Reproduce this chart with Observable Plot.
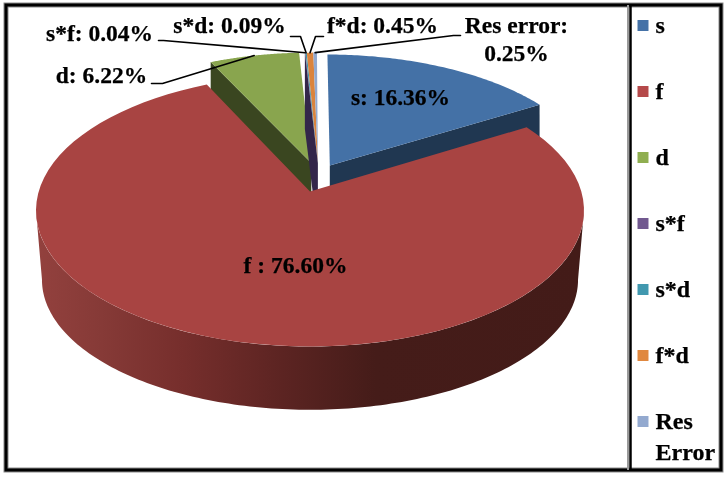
<!DOCTYPE html>
<html>
<head>
<meta charset="utf-8">
<script src="https://cdn.jsdelivr.net/npm/d3@7"></script>
<script src="https://cdn.jsdelivr.net/npm/@observablehq/plot@0.6"></script>
<style>
html,body{margin:0;padding:0;background:#fff}
svg{display:block;filter:blur(0.45px)}
</style>
</head>
<body>
<div id="chart"></div>
<script>
// ---- data
const categories = ["s","f","d","s*f","s*d","f*d","Res Error"];
const percents   = [16.36,76.60,6.22,0.04,0.09,0.45,0.25];
const sliceLabels = ["s: 16.36%","f : 76.60%","d: 6.22%","s*f: 0.04%","s*d: 0.09%","f*d: 0.45%","Res error:\n0.25%"];

// ---- styling
const topColors  = ["#4471a6","#a84442","#89a54e","#71588f","#4198af","#db843d","#93a9cf"];
const wallColors = ["#203751","#a84442","#3a4620","#33264a","#33264a","#33264a","#33264a"];
const legendColors = ["#4572a7","#b5494a","#8fae50","#71588f","#4198af","#e0883f","#93a9cf"];

// ---- layout of the 3-D view
const explodeU = [0.075,0,0.005,0.03,0.03,0.03,0.03];
const explodeV = [-0.2,0,-0.22,-0.22,-0.22,-0.22,-0.22];
const view = {cx:309.5,k:0.14,top:{A:271.3,B:133.3,y0:191},bottom:{A:265.4,B:127.5,y0:261}};
const labelX = [400,295,101,99,229,382,516];
const labelY = [97,265,75,33,25,25,25];
const leaderElbowX = [null,null,162,163,300,315,453];
const leaderElbowY = [null,null,83,40,36,36,35];
const leaderTailX  = [null,null,151,158,290,323,460];
const FONT = "'Liberation Serif','Times New Roman',serif";

function project(u,v,m){
  const w = 1-view.k*v;
  return {x:view.cx+m.A*u/w, y:m.y0+m.B*v/w};
}
const arcs = d3.pie().sort(null)(percents);
function rim(i,a,m){return project(explodeU[i]+Math.sin(a),explodeV[i]-Math.cos(a),m);}
function apex(i,m){return project(explodeU[i],explodeV[i],m);}
function arcPts(i,a0,a1,m,n=80){return d3.range(n+1).map(j=>rim(i,a0+(a1-a0)*j/n,m));}
function topFace(i){return [apex(i,view.top),...arcPts(i,arcs[i].startAngle,arcs[i].endAngle,view.top)];}
function radialWall(i,a){
  const t0=apex(i,view.top),t1=rim(i,a,view.top);
  const b0=apex(i,view.bottom),b1=rim(i,a,view.bottom);
  return [t0,t1,{x:t1.x,y:b1.y},{x:t0.x,y:b0.y}];
}
function poly(points,fill){return Plot.line(points,{x:"x",y:"y",fill,stroke:"none",strokeWidth:0,curve:"linear"});}

// Front wall of the big slice
const frontA0 = 98*Math.PI/180, frontA1 = 262*Math.PI/180;
const frontWall = [...arcPts(1,frontA0,frontA1,view.top,160),...arcPts(1,frontA1,frontA0,view.bottom,160)];

const gradient = () => {
  const defs = d3.create("svg:defs");
  const g = defs.append("linearGradient").attr("id","wallGrad")
    .attr("gradientUnits","userSpaceOnUse").attr("x1",35).attr("x2",583).attr("y1",0).attr("y2",0);
  [[0,"#93413e"],[0.12,"#863a37"],[0.27,"#762e2c"],[0.45,"#5c2422"],[0.62,"#451c19"],[1,"#431b18"]]
    .forEach(([o,c])=>g.append("stop").attr("offset",o).attr("stop-color",c));
  return defs.node();
};

const legend = categories.map((c,i)=>({c,i,y:25+66*i}));
const labels = sliceLabels.flatMap((t,i)=>t.split("\n").map((line,j)=>({line,x:labelX[i],y:labelY[i]+j*28})));
const leaders = [2,3,4,5,6].map(i=>{
  const a=(arcs[i].startAngle+arcs[i].endAngle)/2, r=rim(i,a,view.top);
  return [{i,x:leaderTailX[i],y:leaderElbowY[i]},{i,x:leaderElbowX[i],y:leaderElbowY[i]},{i,x:r.x,y:r.y}];
}).flat();

const marks = [
  gradient,
  // frame
  Plot.rect([{a:6,b:721,c:5,d:470}],{x1:"a",x2:"b",y1:"c",y2:"d",fill:"none",stroke:"#8a8a8a",strokeWidth:5}),
  Plot.rect([{a:6,b:721,c:5,d:470}],{x1:"a",x2:"b",y1:"c",y2:"d",fill:"none",stroke:"#000",strokeWidth:3}),
  Plot.ruleX([627.5],{y1:5,y2:470,stroke:"#9a9a9a",strokeWidth:2}),
  Plot.ruleX([630],{y1:5,y2:470,stroke:"#000",strokeWidth:2.5}),
  // back walls
  poly(radialWall(0,arcs[0].endAngle),wallColors[0]),
  poly(radialWall(2,arcs[2].startAngle),wallColors[2]),
  // exploded tops
  poly(topFace(0),topColors[0]),
  poly(topFace(2),topColors[2]),
  ...[3,4,5,6].map(i=>poly(topFace(i),topColors[i])),
  poly(radialWall(3,arcs[3].startAngle),wallColors[3]),
  // big slice
  poly(frontWall,"url(#wallGrad)"),
  poly(topFace(1),topColors[1]),
  // leaders
  Plot.line(leaders,{x:"x",y:"y",z:"i",stroke:"#000",strokeWidth:1.6}),
  // labels
  Plot.text(labels,{x:"x",y:"y",text:"line",fontFamily:FONT,fontWeight:"bold",fontSize:23.5,fill:"#000",stroke:"#000",strokeWidth:0.25,textAnchor:"middle",lineAnchor:"middle"}),
  // legend
  Plot.dot(legend,{x:()=>642.5,y:"y",symbol:"square",r:6.2,fill:(d)=>legendColors[d.i],stroke:"none"}),
  Plot.text(legend,{x:()=>655,y:"y",text:d=>d.c==="Res Error"?"Res":d.c,fontFamily:FONT,fontWeight:"bold",fontSize:24,textAnchor:"start",lineAnchor:"middle",fill:"#000",stroke:"#000",strokeWidth:0.25}),
  Plot.text(legend.filter(d=>d.c==="Res Error"),{x:()=>655,y:d=>d.y+31,text:()=>"Error",fontFamily:FONT,fontWeight:"bold",fontSize:24,textAnchor:"start",lineAnchor:"middle",fill:"#000",stroke:"#000",strokeWidth:0.25})
];

const chart = Plot.plot({
  width:727,height:477,margin:0,
  style:{background:"#fff",overflow:"visible"},
  x:{domain:[0,727],range:[0,727],axis:null},
  y:{domain:[0,477],range:[0,477],axis:null},
  color:{type:"identity"},
  marks
});
document.getElementById("chart").append(chart);
</script>
</body>
</html>
